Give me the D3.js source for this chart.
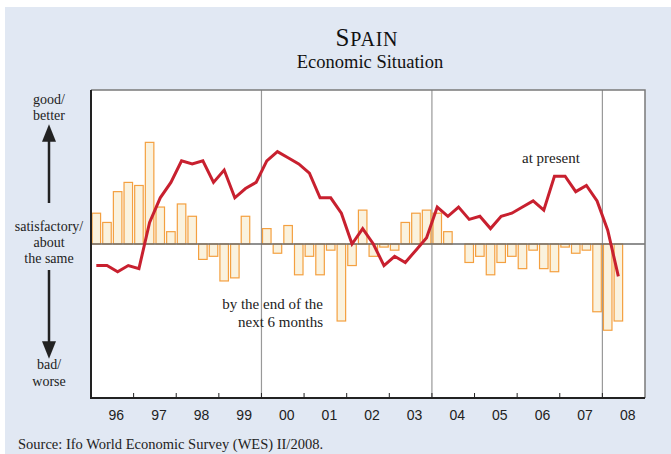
<!DOCTYPE html>
<html>
<head>
<meta charset="utf-8">
<script src="https://cdn.jsdelivr.net/npm/d3@7"></script>
<style>
  body { margin: 0; background: #fff; }
  svg { display: block; }
</style>
</head>
<body>
<svg width="671" height="454"></svg>
<script>
// quarterly WES data, 1996 Q1 .. 2008 Q2
const quarters = d3.range(50).map(i => 1996 + Math.floor(i / 4) + "Q" + (i % 4 + 1));

// economic situation at present (line)
const presentValues = [
  -14, -14, -18, -14,
  -16, 14, 30, 40,
  54, 52, 54, 40,
  48, 30, 36, 40,
  54, 60, 56, 52,
  46, 30, 30, 20,
  0, 10, 0, -14,
  -8, -12, -4, 4,
  24, 18, 24, 16,
  18, 10, 18, 20,
  24, 28, 22, 44,
  44, 34, 38, 28,
  9, -21
];

// expectations for the next 6 months (bars)
const expectValues = [
  20, 14, 34, 40,
  38, 66, 24, 8,
  26, 18, -10, -8,
  -24, -22, 18, null,
  10, -6, 12, -20,
  -8, -20, -4, -50,
  -14, 22, -8, -2,
  -4, 14, 20, 22,
  20, 8, null, -12,
  -8, -20, -12, -8,
  -16, -4, -16, -18,
  -2, -6, -4, -44,
  -56, -50
];

const yearLabels = ["96","97","98","99","00","01","02","03","04","05","06","07","08"];
const markerYears = [2000, 2004, 2008];

const svg = d3.select('svg');
const serif = "'Liberation Serif', 'Times New Roman', serif";
const sans = "'Liberation Sans', Arial, sans-serif";

const margin = {top: 90, left: 91, right: 26, bottom: 56};
const plotW = 671 - margin.left - margin.right;
const plotH = 454 - margin.top - margin.bottom;

// background panel
svg.append('rect').attr('x', 5).attr('y', 7).attr('width', 666).attr('height', 447).attr('fill', '#e1e8f3');

const x = d3.scaleLinear().domain([1996, 2009]).range([margin.left, margin.left + plotW]);
const y = d3.scaleLinear().domain([-100, 100]).range([margin.top + plotH, margin.top]);
const qx = i => x(1996 + i * 0.25 + 0.125);

// plot area
svg.append('rect')
  .attr('x', x(1996)).attr('y', y(100))
  .attr('width', x(2009) - x(1996)).attr('height', y(-100) - y(100))
  .attr('fill', '#fff');

// marker lines
svg.selectAll('.marker').data(markerYears).enter().append('line')
  .attr('x1', d => x(d)).attr('x2', d => x(d))
  .attr('y1', y(100)).attr('y2', y(-100))
  .attr('stroke', '#999').attr('stroke-width', 1.2);

// bars
const bw = x(1996.2) - x(1996);
svg.selectAll('.bar').data(expectValues.map((v, i) => ({v, i})).filter(d => d.v !== null))
  .enter().append('rect')
  .attr('x', d => qx(d.i) - bw / 2)
  .attr('width', bw)
  .attr('y', d => y(Math.max(0, d.v)))
  .attr('height', d => Math.abs(y(d.v) - y(0)))
  .attr('fill', '#faf2de')
  .attr('stroke', '#f4a040')
  .attr('stroke-width', 1.2);

// zero line
svg.append('line')
  .attr('x1', x(1996)).attr('x2', x(2009))
  .attr('y1', y(0)).attr('y2', y(0))
  .attr('stroke', '#6b6b6b').attr('stroke-width', 1.6);

// present line
const line = d3.line().x((d, i) => qx(i)).y(d => y(d));
svg.append('path').datum(presentValues)
  .attr('d', line)
  .attr('fill', 'none')
  .attr('stroke', '#c8202f')
  .attr('stroke-width', 3)
  .attr('stroke-linejoin', 'miter');

// frame: top/right grey, left/bottom dark
svg.append('path')
  .attr('d', `M${x(1996)},${y(100)}H${x(2009)}V${y(-100)}`)
  .attr('fill', 'none').attr('stroke', '#7a7a7a').attr('stroke-width', 1.5);
svg.append('path')
  .attr('d', `M${x(1996)},${y(100)}V${y(-100)}H${x(2009)}`)
  .attr('fill', 'none').attr('stroke', '#222').attr('stroke-width', 2);

// year ticks (inward)
svg.selectAll('.tick').data(d3.range(1997, 2009)).enter().append('line')
  .attr('x1', d => x(d)).attr('x2', d => x(d))
  .attr('y1', y(-100)).attr('y2', y(-100) - 5)
  .attr('stroke', '#222').attr('stroke-width', 1);

svg.selectAll('.ylab').data(yearLabels).enter().append('text')
  .attr('x', (d, i) => x(1996 + i + 0.5) + 4)
  .attr('y', y(-100) + 22)
  .attr('text-anchor', 'middle')
  .attr('font-family', sans).attr('font-size', 14).attr('fill', '#222')
  .text(d => d);

// titles
const title = svg.append('text').attr('x', 367).attr('y', 46)
  .attr('text-anchor', 'middle').attr('font-family', serif).attr('fill', '#111')
  .attr('letter-spacing', 0.8);
title.append('tspan').attr('font-size', 25).text('S');
title.append('tspan').attr('font-size', 20).text('PAIN');
svg.append('text').attr('x', 370).attr('y', 68)
  .attr('text-anchor', 'middle').attr('font-family', serif).attr('font-size', 18.5).attr('fill', '#111')
  .text('Economic Situation');

// annotations
svg.append('text').attr('x', 323).attr('y', 309).attr('text-anchor', 'end')
  .attr('font-family', serif).attr('font-size', 15).attr('fill', '#222').text('by the end of the');
svg.append('text').attr('x', 323).attr('y', 327).attr('text-anchor', 'end')
  .attr('font-family', serif).attr('font-size', 15).attr('fill', '#222').text('next 6 months');
svg.append('text').attr('x', 551).attr('y', 163).attr('text-anchor', 'middle')
  .attr('font-family', serif).attr('font-size', 15).attr('fill', '#222').text('at present');

// left scale labels
const leftText = [
  {t: 'good/', y: 104}, {t: 'better', y: 120},
  {t: 'satisfactory/', y: 231}, {t: 'about', y: 247}, {t: 'the same', y: 263},
  {t: 'bad/', y: 369}, {t: 'worse', y: 386}
];
svg.selectAll('.lt').data(leftText).enter().append('text')
  .attr('x', 49).attr('y', d => d.y).attr('text-anchor', 'middle')
  .attr('font-family', serif).attr('font-size', 14).attr('fill', '#222')
  .text(d => d.t);

const defs = svg.append('defs');
defs.append('marker').attr('id', 'ah').attr('viewBox', '0 0 10 10')
  .attr('refX', 5).attr('refY', 5).attr('markerWidth', 7).attr('markerHeight', 7)
  .attr('orient', 'auto-start-reverse')
  .append('path').attr('d', 'M0,1L10,5L0,9Z').attr('fill', '#222');
svg.append('line').attr('x1', 49).attr('x2', 49).attr('y1', 203).attr('y2', 133)
  .attr('stroke', '#222').attr('stroke-width', 2.5).attr('marker-end', 'url(#ah)');
svg.append('line').attr('x1', 49).attr('x2', 49).attr('y1', 270).attr('y2', 350)
  .attr('stroke', '#222').attr('stroke-width', 2.5).attr('marker-end', 'url(#ah)');

svg.append('text').attr('x', 18).attr('y', 449)
  .attr('font-family', serif).attr('font-size', 14.5).attr('fill', '#222')
  .text('Source: Ifo World Economic Survey (WES) II/2008.');
</script>
</body>
</html>
